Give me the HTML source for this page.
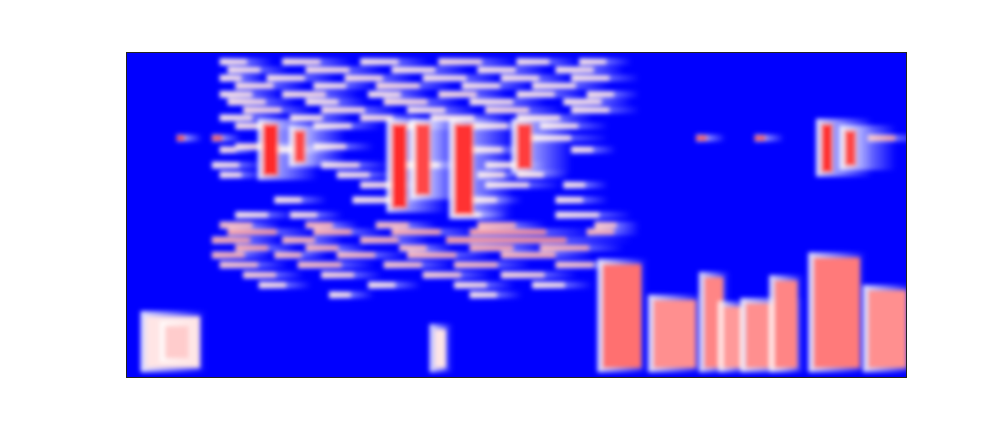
<!DOCTYPE html>
<html><head><meta charset="utf-8"><style>
html,body{margin:0;padding:0;background:#fff;width:1008px;height:432px;overflow:hidden}
svg{display:block}
</style></head><body>
<svg id="chart" width="1008" height="432" xmlns="http://www.w3.org/2000/svg">
<defs><filter id="bl" x="-20%" y="-20%" width="140%" height="140%"><feGaussianBlur stdDeviation="2.5"/></filter>
<linearGradient id="tail" x1="0" x2="1" y1="0" y2="0"><stop offset="0" stop-color="#ffffff" stop-opacity="0.9"/><stop offset="1" stop-color="#ffffff" stop-opacity="0"/></linearGradient>
<clipPath id="pc"><rect x="126" y="52" width="781" height="326"/></clipPath></defs>
<rect x="126" y="52" width="781" height="326" fill="#0000ff"/>
<g id="marks" clip-path="url(#pc)" filter="url(#bl)"></g>
<rect x="126.5" y="52.5" width="780" height="325" fill="none" stroke="#222" stroke-width="1"/>
</svg>
<script>
// time axis 0..100, frequency axis 0..100 (bottom to top)
const streakT0 = [12,20,30,40,50,58, 13,23,34,45,55, 12,18,28,38,48,57, 14,24,32,43,52, 12,20,31,40,50,59, 13,23,33,44,56, 15,25,36,46,57, 12,21,30,39,50, 14,24,34,44,53,
 6.5,11,14,24,50,73,80.5,95, 12,18,44,57, 11,25,36,46, 12,27,45,50, 30,46,56, 19,29,44,55, 14,21,42,55,
 12,23,32,45,60, 13,24,34,44,59, 11,20,30,41, 14,23,35,44,53, 11,19,27,36,48, 12,22,33,42,55, 15,25,38,48, 17,31,42,52, 26,44];
const streakT1 = [17,27,37,48,56,63, 19,31,42,52,62, 16,25,35,46,55,64, 21,30,40,50,60, 18,28,37,47,57,64, 20,29,41,52,63, 22,33,43,54,64, 18,27,36,47,58, 20,31,41,51,60,
 8,13,22,30,60,75,82.5,100, 15,25,50,61, 16,32,42,52, 16,33,50,55, 36,54,60, 24,36,49,60, 20,26,47,63,
 18,28,38,52,64, 22,31,43,58,64, 18,26,37,63, 20,29,40,52,62, 17,24,34,45,58, 19,30,40,50,62, 21,31,45,56, 22,36,48,58, 30,49];
const streakF = [97,97,97,97,97,97, 94.5,94.5,94.5,94.5,94.5, 92,92,92,92,92,92, 89.6,89.6,89.6,89.6,89.6, 87,87,87,87,87,87, 84.7,84.7,84.7,84.7,84.7, 82.2,82.2,82.2,82.2,82.2, 79.8,79.8,79.8,79.8,79.8, 77.3,77.3,77.3,77.3,77.3,
 73.6,73.6,71,71,73.6,73.6,73.6,73.6, 70,70,70,70, 65.3,65.3,65.3,65.3, 62.3,62.3,62.3,62.3, 59.2,59.2,59.2, 54.6,54.6,54.6,54.6, 50,50,50,50,
 46.9,46.9,46.9,46.9,46.9, 44.8,44.8,44.8,44.8,44.8, 42.3,42.3,42.3,42.3, 39.9,39.9,39.9,39.9,39.9, 37.7,37.7,37.7,37.7,37.7, 34.7,34.7,34.7,34.7,34.7, 31.6,31.6,31.6,31.6, 28.5,28.5,28.5,28.5, 25.5,25.5];
const streakV = [0.55,0.56,0.55,0.57,0.55,0.55, 0.55,0.56,0.55,0.55,0.55, 0.55,0.55,0.56,0.55,0.55,0.55, 0.56,0.55,0.57,0.55,0.55, 0.55,0.56,0.55,0.57,0.55,0.55, 0.56,0.55,0.57,0.55,0.55, 0.57,0.56,0.55,0.57,0.55, 0.55,0.55,0.56,0.55,0.55, 0.56,0.55,0.55,0.56,0.55,
 0.92,0.85,0.58,0.56,0.55,0.85,0.85,0.7, 0.56,0.55,0.56,0.55, 0.55,0.56,0.55,0.55, 0.55,0.55,0.56,0.55, 0.56,0.55,0.55, 0.55,0.55,0.56,0.55, 0.55,0.56,0.56,0.55,
 0.64,0.66,0.64,0.66,0.62, 0.7,0.68,0.68,0.72,0.66, 0.68,0.66,0.66,0.72, 0.68,0.66,0.64,0.68,0.66, 0.66,0.64,0.64,0.66,0.66, 0.62,0.64,0.62,0.64,0.62, 0.6,0.58,0.6,0.58, 0.56,0.55,0.56,0.55, 0.55,0.55];
const blobT0 = [17.5,21.5,34,37,42,50,89,92, 2.5,5,39.5, 61,67.5,74,76.5,79.3,83,88,95];
const blobT1 = [19.5,23,36,39,44.5,52,90.5,93.5, 9.5,8,41, 66,73,76.5,79,86,86,94,100];
const blobF0 = [62,66,52,56,50,64,63,65, 3,6,3, 3,3,3,3,3,3,3,3];
const blobF1 = [78,76,78,78,78,78,78,76, 19,16,15, 35,24,31,22,23,30,37,27];
const blobV = [0.92,0.86,0.92,0.86,0.9,0.88,0.9,0.86, 0.55,0.6,0.55, 0.78,0.72,0.74,0.7,0.72,0.74,0.76,0.72];

const X0=126,W=781,Y0=52,H=326;
function xs(t){return X0+t/100*W;}
function ys(f){return Y0+(100-f)/100*H;}
function col(v){ // bwr
  if(v<=0.5){const k=Math.round(v*2*255);return `rgb(${k},${k},255)`;}
  const k=Math.round((1-v)*2*255);return `rgb(255,${k},${k})`;
}
const g=document.getElementById('marks');
const NS='http://www.w3.org/2000/svg';
for(let i=0;i<streakT0.length;i++){
  const x0=xs(streakT0[i]), w=xs(streakT1[i])-x0, y=ys(streakF[i]);
  const h=document.createElementNS(NS,'rect');
  
  
  h.setAttribute('x',x0);h.setAttribute('y',y-3.5);
  h.setAttribute('width',w+14);h.setAttribute('height',7);
  h.setAttribute('fill','url(#tail)');
  g.appendChild(h);
  const r=document.createElementNS(NS,'rect');
  
  
  r.setAttribute('x',x0);r.setAttribute('y',y-2.5);
  r.setAttribute('width',w*0.7);r.setAttribute('height',5);
  r.setAttribute('fill',col(streakV[i]));
  g.appendChild(r);
}
for(let i=0;i<blobT0.length;i++){
  const x0=xs(blobT0[i]), x1=xs(blobT1[i]), y0=ys(blobF1[i]), y1=ys(blobF0[i]);
  const h=document.createElementNS(NS,'rect');
  
  
  h.setAttribute('x',x0-5);h.setAttribute('y',y0-5);
  h.setAttribute('width',x1-x0+(i<8?45:12));h.setAttribute('height',y1-y0+9);
  h.setAttribute('fill','url(#tail)');
  g.appendChild(h);
  const r=document.createElementNS(NS,'rect');
  
  
  r.setAttribute('x',x0);r.setAttribute('y',y0);
  r.setAttribute('width',x1-x0);r.setAttribute('height',y1-y0);
  r.setAttribute('fill',col(blobV[i]));
  g.appendChild(r);
}
</script>
</body></html>
